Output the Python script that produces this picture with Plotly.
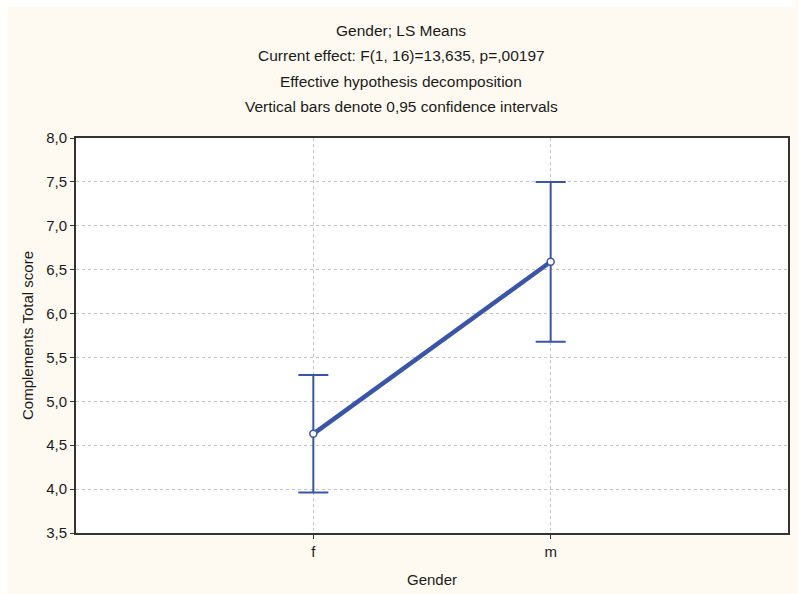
import plotly.graph_objects as go

genders = ["f", "m"]
ls_means = [4.63, 6.59]
ci_half = [0.67, 0.91]
y_ticks = [3.5, 4.0, 4.5, 5.0, 5.5, 6.0, 6.5, 7.0, 7.5, 8.0]
title_lines = [
    "Gender; LS Means",
    "Current effect: F(1, 16)=13,635, p=,00197",
    "Effective hypothesis decomposition",
    "Vertical bars denote 0,95 confidence intervals",
]

blue = "#3B55A6"
font = "Liberation Sans, Arial, sans-serif"
L, R, T, B = 76, 790, 138, 534


def px_x(px):
    return (px - L) / (R - L)


def px_y(py):
    return (B - py) / (B - T)


fig = go.Figure()
fig.add_trace(go.Scatter(
    x=genders, y=ls_means,
    mode="lines+markers",
    line=dict(color=blue, width=4.5),
    marker=dict(symbol="circle", size=7, color="white", line=dict(color=blue, width=1.5)),
    error_y=dict(type="data", array=ci_half, visible=True, color=blue, thickness=2, width=15),
    showlegend=False,
))

annotations = []
for i, t in enumerate(title_lines):
    annotations.append(dict(
        text=t, x=px_x(402), xref="paper", xanchor="center",
        y=px_y(30 + i * 25.5), yref="paper", yanchor="middle", showarrow=False,
        font=dict(family=font, size=15.5, color="#1a1a1a"),
    ))

shapes = [
    dict(type="rect", xref="paper", yref="paper", x0=px_x(0), x1=px_x(798),
         y0=px_y(7), y1=px_y(0), fillcolor="white", line=dict(width=0), layer="below"),
    dict(type="rect", xref="paper", yref="paper", x0=px_x(0), x1=px_x(8),
         y0=px_y(594), y1=px_y(0), fillcolor="white", line=dict(width=0), layer="below"),
]

fig.update_layout(
    width=798, height=594,
    margin=dict(l=L, r=798 - R, t=T, b=594 - B),
    paper_bgcolor="#FFFAF1",
    plot_bgcolor="white",
    separators=",.",
    font=dict(family=font, size=15, color="#1a1a1a"),
    annotations=annotations,
    shapes=shapes,
    xaxis=dict(
        type="category", range=[-1, 2],
        showline=True, linecolor="#333", linewidth=2, mirror=True,
        showgrid=True, gridcolor="#c4c4c4", griddash="dot", gridwidth=1,
        ticks="outside", ticklen=4, tickcolor="#333",
        title=dict(text="Gender", font=dict(family=font, size=15), standoff=15),
        tickfont=dict(family=font, size=15),
    ),
    yaxis=dict(
        range=[3.5, 8.0], tickvals=y_ticks, tickformat=".1f",
        showline=True, linecolor="#333", linewidth=2, mirror=True,
        showgrid=True, gridcolor="#c4c4c4", griddash="dot", gridwidth=1,
        ticks="outside", ticklen=4, tickcolor="#333",
        zeroline=False,
        title=dict(text="Complements Total score", font=dict(family=font, size=15), standoff=9),
        tickfont=dict(family=font, size=15),
    ),
)

fig.write_html("out.html")
